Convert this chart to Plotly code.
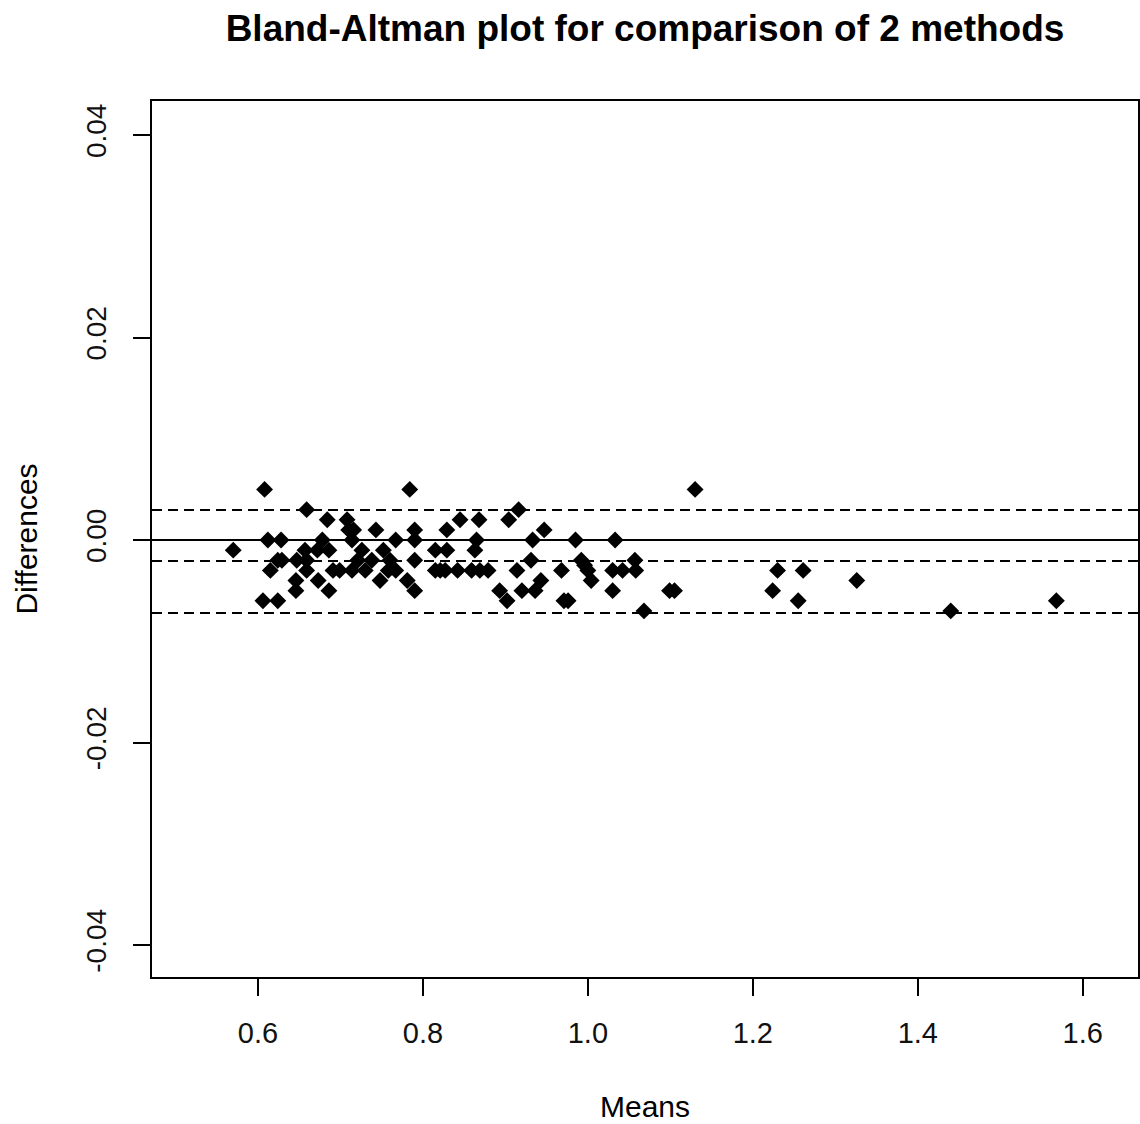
import plotly.graph_objects as go

# Data
means = [0.570, 0.608, 0.606, 0.612, 0.615, 0.624, 0.629, 0.628, 0.624, 0.647,
         0.646, 0.646, 0.657, 0.659, 0.659, 0.659, 0.672, 0.673, 0.678, 0.684,
         0.686, 0.686, 0.691, 0.699, 0.708, 0.710, 0.716, 0.714, 0.714, 0.721,
         0.726, 0.730, 0.738, 0.743, 0.752, 0.748, 0.760, 0.758, 0.767, 0.767,
         0.781, 0.784, 0.790, 0.790, 0.790, 0.790, 0.815, 0.829, 0.815, 0.827,
         0.829, 0.842, 0.845, 0.859, 0.863, 0.865, 0.868, 0.869, 0.879, 0.893,
         0.902, 0.904, 0.914, 0.916, 0.920, 0.821, 0.931, 0.933, 0.936, 0.943,
         0.947, 0.968, 0.971, 0.976, 0.985, 0.992, 0.996, 1.000, 1.004, 1.033,
         1.030, 1.042, 1.030, 1.057, 1.058, 1.068, 1.099, 1.105, 1.130, 1.224,
         1.230, 1.261, 1.255, 1.326, 1.440, 1.568]
diffs = [-0.001, 0.005, -0.006, 0.000, -0.003, -0.002, -0.002, 0.000, -0.006, -0.002,
         -0.004, -0.005, -0.001, -0.002, -0.003, 0.003, -0.001, -0.004, 0.000, 0.002,
         -0.001, -0.005, -0.003, -0.003, 0.002, 0.001, 0.001, 0.000, -0.003, -0.002,
         -0.001, -0.003, -0.002, 0.001, -0.001, -0.004, -0.002, -0.003, 0.000, -0.003,
         -0.004, 0.005, -0.005, 0.001, 0.000, -0.002, -0.001, -0.001, -0.003, -0.003,
         0.001, -0.003, 0.002, -0.003, -0.001, 0.000, 0.002, -0.003, -0.003, -0.005,
         -0.006, 0.002, -0.003, 0.003, -0.005, -0.003, -0.002, 0.000, -0.005, -0.004,
         0.001, -0.003, -0.006, -0.006, 0.000, -0.002, -0.0025, -0.003, -0.004, 0.000,
         -0.003, -0.003, -0.005, -0.002, -0.003, -0.007, -0.005, -0.005, 0.005, -0.005,
         -0.003, -0.003, -0.006, -0.004, -0.007, -0.006]

zero_line = 0.0
mean_diff = -0.00207
upper_loa = 0.00296
lower_loa = -0.0072

x_ticks = [0.6, 0.8, 1.0, 1.2, 1.4, 1.6]
x_tick_labels = ["0.6", "0.8", "1.0", "1.2", "1.4", "1.6"]
y_ticks = [-0.04, -0.02, 0.00, 0.02, 0.04]
y_tick_labels = ["-0.04", "-0.02", "0.00", "0.02", "0.04"]

FONT = "Liberation Sans, Arial, sans-serif"

fig = go.Figure()
fig.add_trace(go.Scatter(
    x=means, y=diffs, mode="markers",
    marker=dict(symbol="diamond", size=13, color="black", line=dict(width=0)),
    showlegend=False, hoverinfo="x+y"))

fig.add_shape(type="line", xref="paper", x0=0, x1=1, yref="y", y0=zero_line, y1=zero_line,
              line=dict(color="black", width=2))
for v in (mean_diff, upper_loa, lower_loa):
    fig.add_shape(type="line", xref="paper", x0=0, x1=1, yref="y", y0=v, y1=v,
                  line=dict(color="black", width=2, dash="10px,6px"))

fig.update_layout(
    width=1140, height=1124,
    paper_bgcolor="white", plot_bgcolor="white",
    margin=dict(l=152, r=2, t=101, b=147),
    font=dict(family=FONT, color="black", size=29),
    title=dict(text="<b>Bland-Altman plot for comparison of 2 methods</b>",
               x=645 / 1140, xanchor="center",
               y=1 - 28 / 1124, yanchor="middle",
               font=dict(family=FONT, size=37, color="black")),
)
fig.update_xaxes(
    range=[0.4715, 1.667], tickvals=x_ticks, ticktext=x_tick_labels,
    showgrid=False, zeroline=False, automargin=False,
    showline=True, linecolor="black", linewidth=1.5, mirror=True,
    ticks="outside", ticklen=17, tickwidth=1.5, tickcolor="black",
    ticklabelstandoff=12,
    tickfont=dict(size=29, color="#111"),
    title=dict(text="Means", font=dict(size=30), standoff=48),
)
fig.update_yaxes(
    range=[-0.04316, 0.04336], tickvals=y_ticks, ticktext=y_tick_labels,
    showgrid=False, zeroline=False, automargin=False,
    showline=True, linecolor="black", linewidth=1.5, mirror=True,
    ticks="outside", ticklen=17, tickwidth=1.5, tickcolor="black",
    tickangle=-90, ticklabelstandoff=16,
    tickfont=dict(size=28, color="#111"),
    title=dict(text="Differences", font=dict(size=30), standoff=35),
)

fig.write_html("out.html",
               config={"displayModeBar": False},
               post_script="document.body.style.margin='0';document.body.style.overflow='hidden';")
